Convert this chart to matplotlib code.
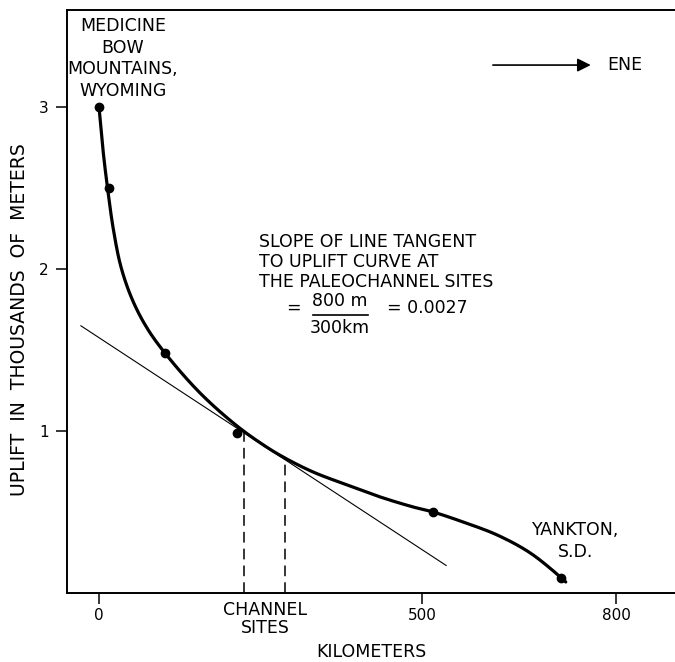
import matplotlib.pyplot as plt
import numpy as np

# uplift curve (km, thousands of m)
curve_km = [0, 6.2, 13.2, 22.4, 34.1, 51.8, 74.3, 102.2, 156.3, 213.6, 257.0, 287.9,
            331.3, 383.9, 435.0, 486.1, 517.0, 563.5, 616.1, 667.2, 713.6, 722]
curve_up = [3.0, 2.735, 2.50, 2.241, 2.012, 1.809, 1.636, 1.481, 1.235, 1.031, 0.907,
            0.833, 0.747, 0.667, 0.593, 0.531, 0.50, 0.438, 0.358, 0.247, 0.099, 0.068]

# measured sites
site_km = [0, 15, 102, 213, 517, 715]
site_up = [3.0, 2.5, 1.48, 0.99, 0.50, 0.09]

# tangent line and the two channel sites
tangent_km = [-28, 537]
tangent_up = [1.65, 0.17]
channel_km = [224, 288]
channel_up = [0.99, 0.833]

xticks = [0, 500, 800]
yticks = [1, 2, 3]


def smooth(xs, ys, sx=0.646, sy=162.0, n=12):
    # centripetal catmull-rom through the read points (drawn in pixel-like space)
    p = np.column_stack([np.asarray(xs) * sx, np.asarray(ys) * sy])
    p = np.vstack([2 * p[0] - p[1], p, 2 * p[-1] - p[-2]])
    out = []
    for i in range(1, len(p) - 2):
        p0, p1, p2, p3 = p[i - 1], p[i], p[i + 1], p[i + 2]
        t0 = 0.0
        t1 = t0 + np.linalg.norm(p1 - p0) ** 0.5
        t2 = t1 + np.linalg.norm(p2 - p1) ** 0.5
        t3 = t2 + np.linalg.norm(p3 - p2) ** 0.5
        t = np.linspace(t1, t2, n)[:, None]
        a1 = (t1 - t) / (t1 - t0) * p0 + (t - t0) / (t1 - t0) * p1
        a2 = (t2 - t) / (t2 - t1) * p1 + (t - t1) / (t2 - t1) * p2
        a3 = (t3 - t) / (t3 - t2) * p2 + (t - t2) / (t3 - t2) * p3
        b1 = (t2 - t) / (t2 - t0) * a1 + (t - t0) / (t2 - t0) * a2
        b2 = (t3 - t) / (t3 - t1) * a2 + (t - t1) / (t3 - t1) * a3
        c = (t2 - t) / (t2 - t1) * b1 + (t - t1) / (t2 - t1) * b2
        out.append(c if i == 1 else c[1:])
    out = np.vstack(out)
    return out[:, 0] / sx, out[:, 1] / sy


fnt = 'DejaVu Sans'
fs = 12.5
fig = plt.figure(figsize=(6.75, 6.62), dpi=100)
ax = fig.add_axes([67 / 675, 1 - 593 / 662, 1 - 67 / 675, 583 / 662])
ax.set_xlim(-49.5, 891)
ax.set_ylim(0, 3.6)

cx, cy = smooth(curve_km, curve_up)
ax.plot(cx, cy, color='black', lw=2.3, solid_capstyle='round')
ax.plot(site_km, site_up, 'o', color='black', ms=6)
ax.plot(tangent_km, tangent_up, color='black', lw=0.8)
for xk, yk in zip(channel_km, channel_up):
    ax.plot([xk, xk], [0, yk], color='black', lw=1.1, dashes=(7, 4))

for s in ['top', 'left', 'bottom']:
    ax.spines[s].set_linewidth(1.4)
ax.spines['right'].set_visible(False)

ax.set_xticks(xticks)
ax.set_yticks(yticks)
ax.tick_params(axis='both', direction='out', length=8, width=1.1, labelsize=11, pad=3)
ax.tick_params(axis='y', pad=5)
for lab in ax.get_xticklabels() + ax.get_yticklabels():
    lab.set_family(fnt)

ax.text(37, 3.30, 'MEDICINE\nBOW\nMOUNTAINS,\nWYOMING', ha='center', va='center',
        fontsize=fs, linespacing=1.25, family=fnt)
ax.text(737, 0.32, 'YANKTON,\nS.D.', ha='center', va='center', fontsize=fs,
        linespacing=1.3, family=fnt)

ax.annotate('', xy=(765, 3.26), xytext=(605, 3.26),
            arrowprops=dict(arrowstyle='-|>', color='black', lw=1.2, mutation_scale=20))
ax.text(786, 3.26, 'ENE', ha='left', va='center', fontsize=fs, family=fnt)

ax.text(248, 2.043, 'SLOPE OF LINE TANGENT\nTO UPLIFT CURVE AT\nTHE PALEOCHANNEL SITES',
        ha='left', va='center', fontsize=fs, linespacing=1.15, family=fnt)
ax.text(300, 1.76, '=', ha='center', va='center', fontsize=fs, family=fnt)
ax.text(373, 1.80, '800 m', ha='center', va='center', fontsize=fs, family=fnt)
ax.plot([331, 416], [1.716, 1.716], color='black', lw=1.2)
ax.text(373, 1.636, '300km', ha='center', va='center', fontsize=fs, family=fnt)
ax.text(446, 1.76, '= 0.0027', ha='left', va='center', fontsize=fs, family=fnt)

ax.text(257, -0.16, 'CHANNEL\nSITES', ha='center', va='center', fontsize=fs,
        linespacing=1.05, family=fnt, clip_on=False)
ax.text(421, -0.364, 'KILOMETERS', ha='center', va='center', fontsize=fs,
        family=fnt, clip_on=False)
fig.text(20 / 675, 1 - 320 / 662, 'UPLIFT  IN  THOUSANDS  OF  METERS', rotation=90,
         ha='center', va='center', fontsize=13.5, family=fnt)

plt.savefig('out.png', dpi=100)
